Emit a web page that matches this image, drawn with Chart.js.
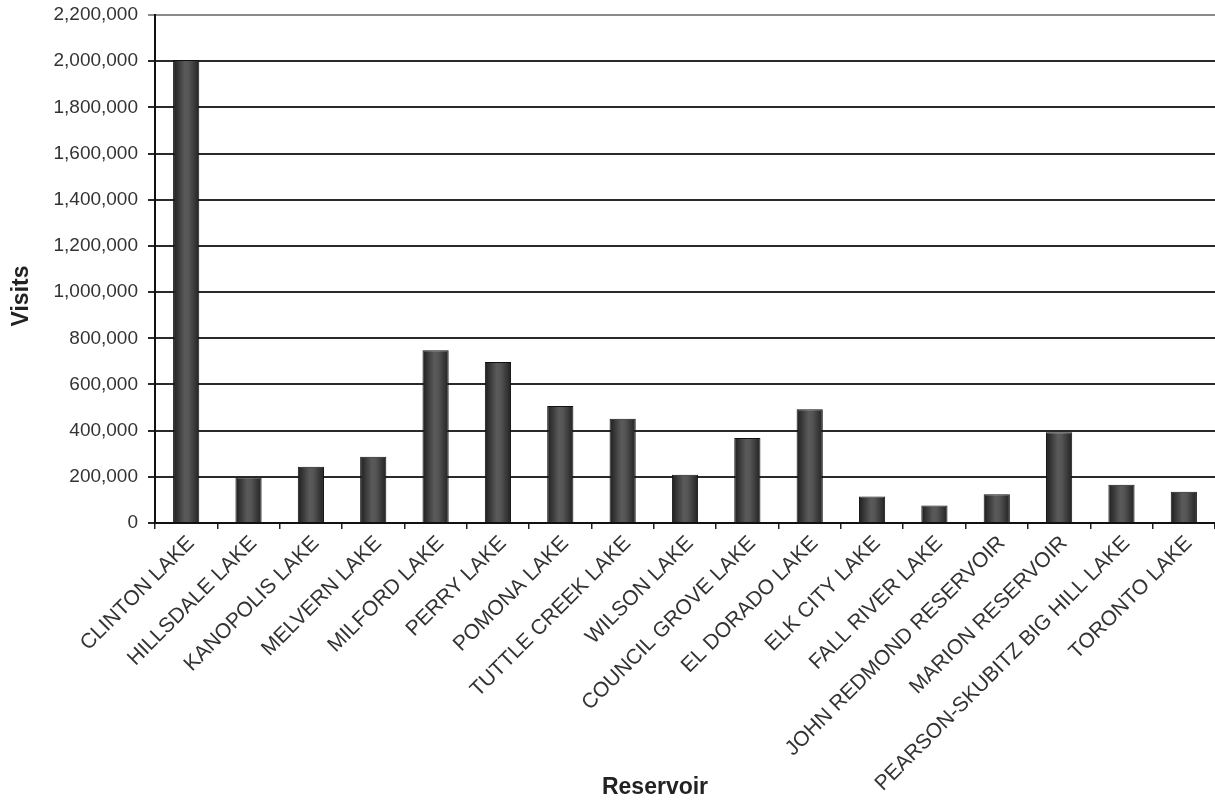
<!DOCTYPE html>
<html>
<head>
<meta charset="utf-8">
<script src="https://cdn.jsdelivr.net/npm/chart.js@4/dist/chart.umd.min.js"></script>
<style>
  html, body { margin: 0; padding: 0; background: #fff; }
  #wrap { width: 1215px; height: 802px; position: relative; }
</style>
</head>
<body>
<div id="wrap"><canvas id="c"></canvas></div>
<script>
// Annual visits per reservoir
const reservoirs = [
  'CLINTON LAKE', 'HILLSDALE LAKE', 'KANOPOLIS LAKE', 'MELVERN LAKE',
  'MILFORD LAKE', 'PERRY LAKE', 'POMONA LAKE', 'TUTTLE CREEK LAKE',
  'WILSON LAKE', 'COUNCIL GROVE LAKE', 'EL DORADO LAKE', 'ELK CITY LAKE',
  'FALL RIVER LAKE', 'JOHN REDMOND RESERVOIR', 'MARION RESERVOIR',
  'PEARSON-SKUBITZ BIG HILL LAKE', 'TORONTO LAKE'
];
const visits = [
  2005000, 197000, 244000, 287000,
  748000, 697000, 507000, 451000,
  209000, 368000, 493000, 115000,
  76000, 125000, 393000,
  166000, 135000
];
const yTicks = [0, 200000, 400000, 600000, 800000, 1000000, 1200000,
  1400000, 1600000, 1800000, 2000000, 2200000];
const xTitle = 'Reservoir';
const yTitle = 'Visits';

const BAR_FRACTION = 0.42;
const FONT = '"Liberation Sans", Arial, sans-serif';

// Horizontal shading across each bar: dark edges, lighter middle
function barFill(ctx) {
  const chart = ctx.chart;
  const area = chart.chartArea;
  if (!area || !chart.scales.x) return '#3a3a3a';
  const cx = chart.scales.x.getPixelForValue(ctx.dataIndex);
  const w = (area.right - area.left) / reservoirs.length * BAR_FRACTION;
  const g = chart.ctx.createLinearGradient(cx - w / 2, 0, cx + w / 2, 0);
  g.addColorStop(0, '#1e1e1e');
  g.addColorStop(0.45, '#5a5a5a');
  g.addColorStop(0.6, '#555555');
  g.addColorStop(1, '#222222');
  return g;
}

// Axis titles, placed by hand next to the axes
const axisTitles = {
  id: 'axisTitles',
  afterDraw(chart) {
    const c = chart.ctx;
    c.save();
    c.fillStyle = '#222';
    c.font = 'bold 23px ' + FONT;
    c.textAlign = 'center';
    c.textBaseline = 'alphabetic';
    c.fillText(xTitle, 655, 794);
    c.translate(28, 296);
    c.rotate(-Math.PI / 2);
    c.fillText(yTitle, 0, 0);
    c.restore();
  }
};

const fmt = v => v.toLocaleString('en-US');

new Chart(document.getElementById('c'), {
  type: 'bar',
  data: {
    labels: reservoirs,
    datasets: [{
      data: visits,
      backgroundColor: barFill,
      borderColor: '#111',
      borderWidth: 1,
      barPercentage: BAR_FRACTION,
      categoryPercentage: 1
    }]
  },
  plugins: [axisTitles],
  options: {
    responsive: true,
    maintainAspectRatio: false,
    animation: false,
    layout: { padding: { top: 15, right: 0, bottom: 0, left: 0 } },
    plugins: { legend: { display: false }, tooltip: { enabled: false } },
    scales: {
      x: {
        afterFit: s => { s.height = 279; },
        border: { display: true, color: '#111', width: 2 },
        grid: {
          offset: true,
          drawOnChartArea: false,
          drawTicks: true,
          tickLength: 6,
          color: '#222',
          lineWidth: 1.5
        },
        ticks: {
          autoSkip: false,
          minRotation: 45,
          maxRotation: 45,
          padding: 2,
          labelOffset: 5,
          color: '#333',
          font: { family: FONT, size: 21 }
        }
      },
      y: {
        min: 0,
        max: 2200000,
        afterFit: s => { s.width = 155; s.paddingTop = 0; s.paddingBottom = 0; },
        afterBuildTicks: s => { s.ticks = yTicks.map(v => ({ value: v })); },
        border: { display: true, color: '#111', width: 2 },
        grid: {
          drawTicks: true,
          tickLength: 7,
          color: c => (c.tick && c.tick.value === 2200000) ? '#8a8a8a' : '#2a2a2a',
          lineWidth: 2
        },
        ticks: {
          padding: 10,
          color: '#333',
          font: { family: FONT, size: 19 },
          callback: v => fmt(v)
        }
      }
    }
  }
});
</script>
</body>
</html>
